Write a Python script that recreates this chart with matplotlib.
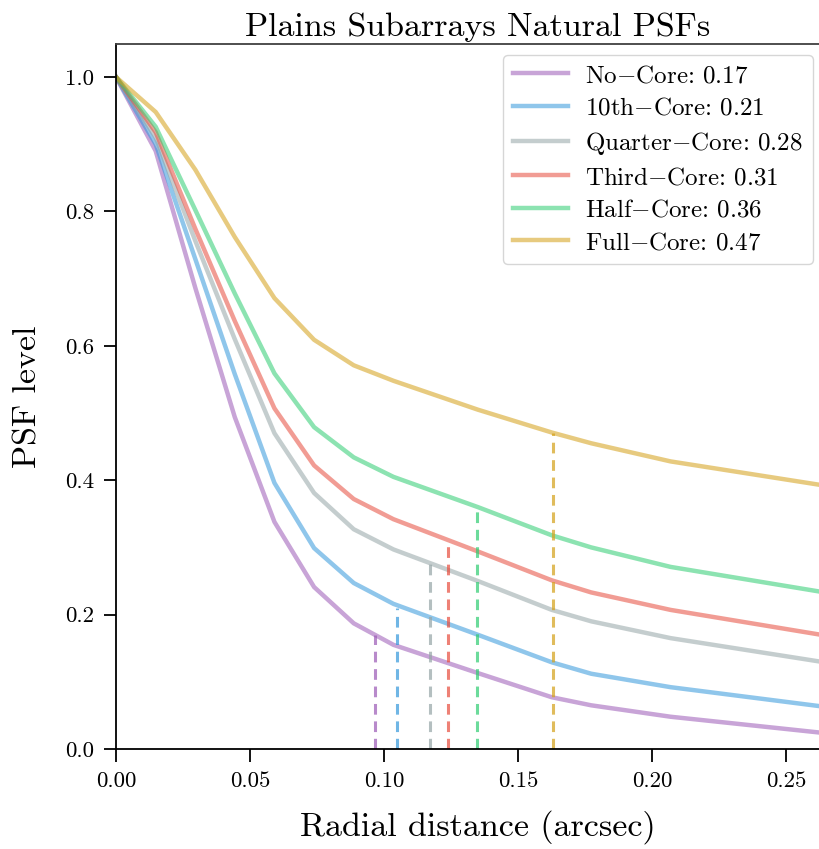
import matplotlib
matplotlib.use('Agg')
import matplotlib.pyplot as plt

plt.rcParams['font.family'] = 'serif'
plt.rcParams['font.serif'] = ['cmr10']
plt.rcParams['mathtext.fontset'] = 'cm'
plt.rcParams['axes.formatter.use_mathtext'] = True

# radial grid (arcsec)
radius = [0.0, 0.0148, 0.0296, 0.0443, 0.0591, 0.0739, 0.0887, 0.1035,
          0.1350, 0.1626, 0.1773, 0.2069, 0.2660]

# PSF profiles, one per subarray configuration
no_core = [1.0, 0.890, 0.686, 0.494, 0.338, 0.241, 0.187, 0.155,
           0.113, 0.077, 0.065, 0.048, 0.023]
tenth_core = [1.0, 0.900, 0.729, 0.558, 0.396, 0.299, 0.247, 0.216,
              0.170, 0.129, 0.112, 0.092, 0.062]
quarter_core = [1.0, 0.910, 0.756, 0.610, 0.470, 0.381, 0.327, 0.297,
                0.250, 0.207, 0.190, 0.165, 0.128]
third_core = [1.0, 0.918, 0.774, 0.637, 0.507, 0.422, 0.372, 0.342,
              0.294, 0.251, 0.233, 0.207, 0.168]
half_core = [1.0, 0.926, 0.802, 0.678, 0.559, 0.479, 0.434, 0.405,
             0.360, 0.318, 0.300, 0.271, 0.232]
full_core = [1.0, 0.948, 0.862, 0.762, 0.671, 0.609, 0.571, 0.548,
             0.505, 0.471, 0.455, 0.428, 0.391]

names = ['No$-$Core', '10th$-$Core', 'Quarter$-$Core', 'Third$-$Core',
         'Half$-$Core', 'Full$-$Core']
profiles = [no_core, tenth_core, quarter_core, third_core, half_core, full_core]

# width values (arcsec) and where they sit on the radial axis
widths = [0.17, 0.21, 0.28, 0.31, 0.36, 0.47]
width_pos = [0.0967, 0.1049, 0.1172, 0.1239, 0.1347, 0.1631]

colors = ['#9b59b6', '#3498db', '#95a5a6', '#e74c3c', '#2ecc71', '#d4a017']

fig = plt.figure(figsize=(8.2, 8.49), dpi=100)
ax = fig.add_axes([0.1415, 0.1178, 0.8825, 0.8302])

for name, prof, w, xp, c in zip(names, profiles, widths, width_pos, colors):
    ax.plot(radius, prof, color=c, alpha=0.55, lw=3.2,
            label='%s: %.2f' % (name, w))
    ax.plot([xp, xp], [0, w], color=c, alpha=0.7, lw=2.2, ls='--',
            dashes=(3.5, 2.2))

ax.set_xlim(0, 0.27)
ax.set_ylim(0, 1.049)
ax.set_xticks([0.0, 0.05, 0.10, 0.15, 0.20, 0.25])
ax.set_xticklabels(['0.00', '0.05', '0.10', '0.15', '0.20', '0.25'])
ax.set_yticks([0.0, 0.2, 0.4, 0.6, 0.8, 1.0])
ax.set_yticklabels(['0.0', '0.2', '0.4', '0.6', '0.8', '1.0'])

ax.tick_params(labelsize=16.5, direction='out', length=9, width=1.3,
               top=False, right=False, pad=7)
for side in ['left', 'bottom']:
    ax.spines[side].set_linewidth(1.3)
ax.spines['top'].set_linewidth(1.3)
ax.spines['top'].set_color('#404040')

ax.set_title('Plains Subarrays Natural PSFs', fontsize=24.5, pad=6)
ax.set_xlabel('Radial distance (arcsec)', fontsize=24.5, labelpad=14)
ax.set_ylabel('PSF level', fontsize=24.5, labelpad=16)

ax.legend(loc='upper right', fontsize=18, bbox_to_anchor=(0.963, 0.985),
          handlelength=2.2, handletextpad=0.7, labelspacing=0.4,
          borderaxespad=0.0)

plt.savefig('out.png', dpi=100)
